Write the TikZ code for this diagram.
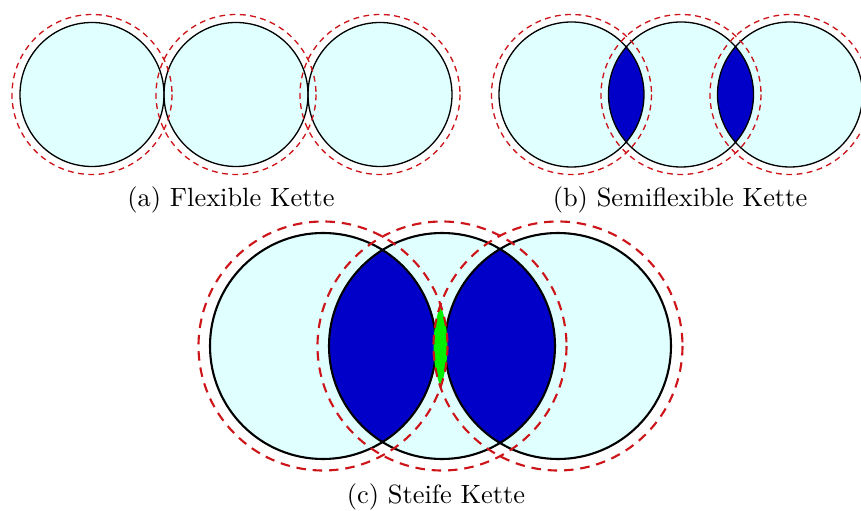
\documentclass[tikz,border=0pt]{standalone}
\definecolor{beadcol}   {RGB}{224,255,255}
\definecolor{overlapcol}{RGB}{0,0,200}
\definecolor{stiffcol}  {RGB}{0,240,0}
\definecolor{hullcol}   {RGB}{205,20,25}

\begin{document}
\begin{tikzpicture}[x=0.3788pt,y=-0.3788pt,
    beadline/.style={draw=black,line width=0.5pt},
    hull/.style={draw=hullcol,line width=0.5pt,dash pattern=on 2.2pt off 1.7pt},
    bigline/.style={draw=black,line width=0.8pt},
    bighull/.style={draw=hullcol,line width=0.8pt,dash pattern=on 3.6pt off 2.6pt},
    caption/.style={font=\normalsize}]

\useasboundingbox (0,0) rectangle (861,511);

% ================================================================
% (a) FLEXIBLE CHAIN --- beads just touching
% ================================================================
\foreach \x in {92,236,380}
    \fill[beadcol] (\x,94.5) circle (72);
\foreach \x in {92,236,380}
    \draw[beadline] (\x,94.5) circle (72);
\foreach \x in {92,236,380}
    \draw[hull] (\x,94.5) circle (80);
\node[caption] (capa) at (231,200) {(a) Flexible Kette};

% ================================================================
% (b) SEMIFLEXIBLE CHAIN --- neighbouring beads overlap
% ================================================================
\foreach \x in {571.5,681,790}
    \fill[beadcol] (\x,94.5) circle (72.5);
\begin{scope}
    \clip (571.5,94.5) circle (72.5);
    \fill[overlapcol] (681,94.5) circle (72.5);
\end{scope}
\begin{scope}
    \clip (681,94.5) circle (72.5);
    \fill[overlapcol] (790,94.5) circle (72.5);
\end{scope}
\foreach \x in {571.5,681,790}
    \draw[beadline] (\x,94.5) circle (72.5);
\foreach \x in {571.5,681,790}
    \draw[hull] (\x,94.5) circle (80);
\node[caption] (capb) at (680,200) {(b) Semiflexible Kette};

% ================================================================
% (c) STIFF CHAIN --- strong overlap, outer hulls touch
% ================================================================
\foreach \x in {323,442,558}
    \fill[beadcol] (\x,346) circle (113);
\begin{scope}
    \clip (323,346) circle (113);
    \fill[overlapcol] (442,346) circle (113);
\end{scope}
\begin{scope}
    \clip (442,346) circle (113);
    \fill[overlapcol] (558,346) circle (113);
\end{scope}
\foreach \x in {323,442,558}
    \draw[bigline] (\x,346) circle (113);
\begin{scope}
    \clip (323,346) circle (124.5);
    \fill[stiffcol] (558,346) circle (124.5);
\end{scope}
\foreach \x in {323,442,558}
    \draw[bighull] (\x,346) circle (124.5);
\node[caption] (capc) at (436,497) {(c) Steife Kette};

\end{tikzpicture}
\end{document}
